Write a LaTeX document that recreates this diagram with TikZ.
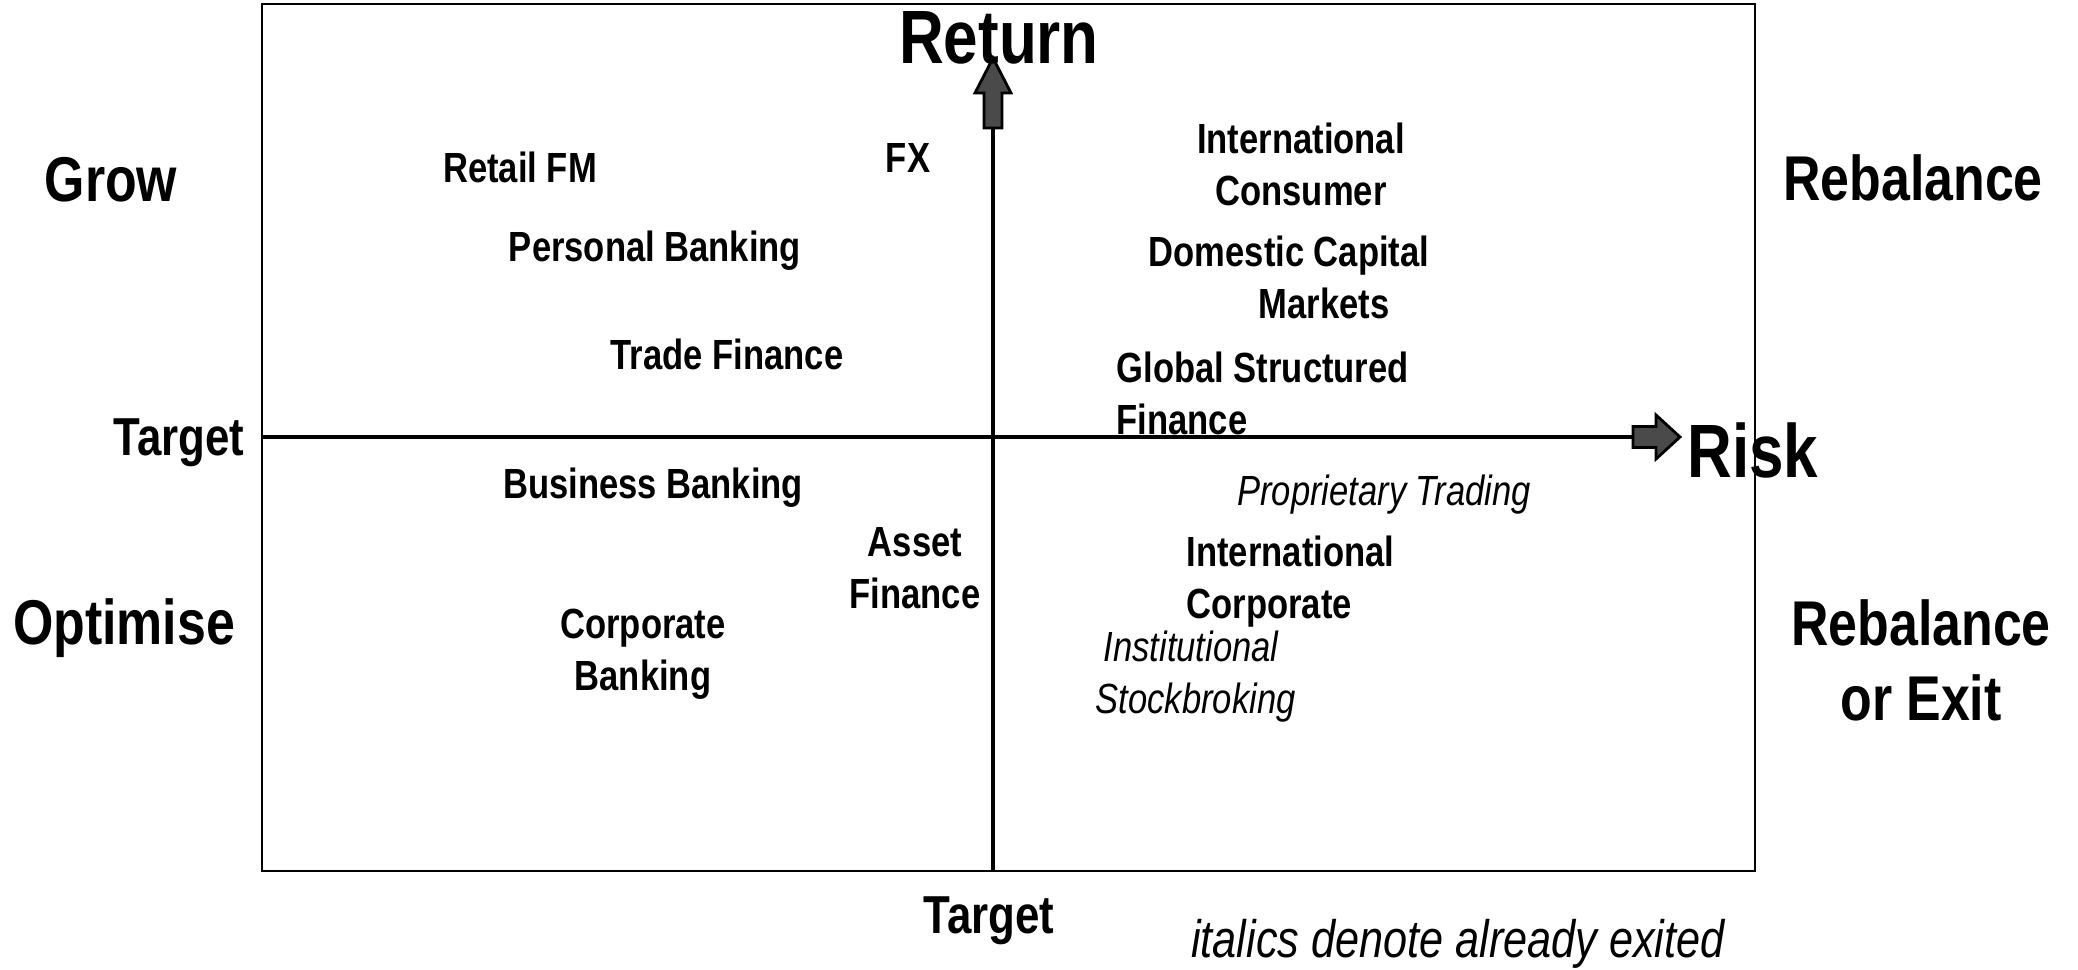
\documentclass[tikz,border=0pt]{standalone}
\usepackage{fontspec}
\setmainfont{Liberation Sans}[FakeStretch=0.82]
\usepackage{tikz}
\definecolor{arrowgray}{HTML}{4A4A4A}
\tikzset{%
  frame/.style = {draw,line width=0.6pt},
  axis/.style = {line width=1.2pt},
  blockarrow/.style = {draw=black,fill=arrowgray,line width=0.8pt,line join=miter},
  quad/.style = {inner sep=0pt,align=center,
        font=\fontsize{18}{21.3}\selectfont\bfseries},
  axlbl/.style = {inner sep=0pt,font=\fontsize{21.5}{25}\selectfont\bfseries},
  tgt/.style = {inner sep=0pt,font=\fontsize{15.2}{18}\selectfont\bfseries},
  unit/.style = {inner sep=0pt,align=center,
        font=\fontsize{12}{14.8}\selectfont\bfseries},
  exited/.style = {inner sep=0pt,align=left,
        font=\fontsize{12}{14.8}\selectfont\itshape}
}

\begin{document}
\begin{tikzpicture}
\useasboundingbox (0,0) rectangle (20.78,9.69);

\coordinate (sw) at (2.62,0.98);
\coordinate (ne) at (17.55,9.65);
\coordinate (ybot) at (9.93,0.98);
\coordinate (ytail) at (9.93,8.41);
\coordinate (xleft) at (2.62,5.32);
\coordinate (xtail) at (16.33,5.32);

\draw[frame] (sw) rectangle (ne);
\draw[axis] (ybot) -- (ytail);
\draw[axis] (xleft) -- (xtail);
\draw[blockarrow] (ytail) ++(-0.09,0) -- ++(0,0.35) -- ++(-0.09,0) -- ++(0.18,0.35)
    -- ++(0.18,-0.35) -- ++(-0.09,0) -- ++(0,-0.35) -- cycle;
\draw[blockarrow] (xtail) ++(0,0.105) -- ++(0.23,0) -- ++(0,0.115) -- ++(0.24,-0.22)
    -- ++(-0.24,-0.22) -- ++(0,0.115) -- ++(-0.23,0) -- cycle;

\node[axlbl,anchor=base] (ret) at (9.99,9.05) {Return};
\node[axlbl,anchor=base] (risk) at (17.53,4.92) {Risk};
\node[tgt,anchor=base east] (tgtl) at (2.45,5.14) {Target};
\node[tgt,anchor=base] (tgtb) at (9.89,0.36) {Target};

\node[quad,anchor=base] (grow) at (1.11,7.68) {Grow};
\node[quad,anchor=base] (opt) at (1.24,3.25) {Optimise};
\node[quad,anchor=base] (reb) at (19.13,7.69) {Rebalance};
\node[quad] (rebx) at (19.21,3.09) {Rebalance\\or Exit};

\node[unit,anchor=base] (rfm) at (5.20,7.86) {Retail FM};
\node[unit,anchor=base] (fx) at (9.08,7.97) {FX};
\node[unit,anchor=base] (pb) at (6.55,7.08) {Personal Banking};
\node[unit,anchor=base] (tf) at (7.27,5.99) {Trade Finance};
\node[unit] (ic) at (13.01,8.05) {International\\Consumer};
\node[unit,align=left,anchor=west] (dcm) at (11.48,6.915)
    {Domestic Capital\\\hspace*{1.1cm}Markets};
\node[unit,align=left,anchor=west] (gsf) at (11.16,5.755)
    {Global Structured\\Finance};

\node[unit,anchor=base] (bb) at (6.53,4.71) {Business Banking};
\node[unit] (af) at (9.15,4.01) {Asset\\Finance};
\node[unit] (cb) at (6.43,3.15) {Corporate\\Banking};

\node[exited,anchor=base] (pt) at (13.84,4.64) {Proprietary Trading};
\node[unit,align=left,anchor=west] (icorp) at (11.86,3.87)
    {International\\Corporate};
\node[exited,anchor=west] (isb) at (10.95,2.92) {\hspace*{0.08cm}Institutional\\Stockbroking};

\node[anchor=base,inner sep=0pt,font=\fontsize{15}{18}\selectfont\itshape] (note)
    at (14.58,0.12) {italics denote already exited};
\end{tikzpicture}
\end{document}
